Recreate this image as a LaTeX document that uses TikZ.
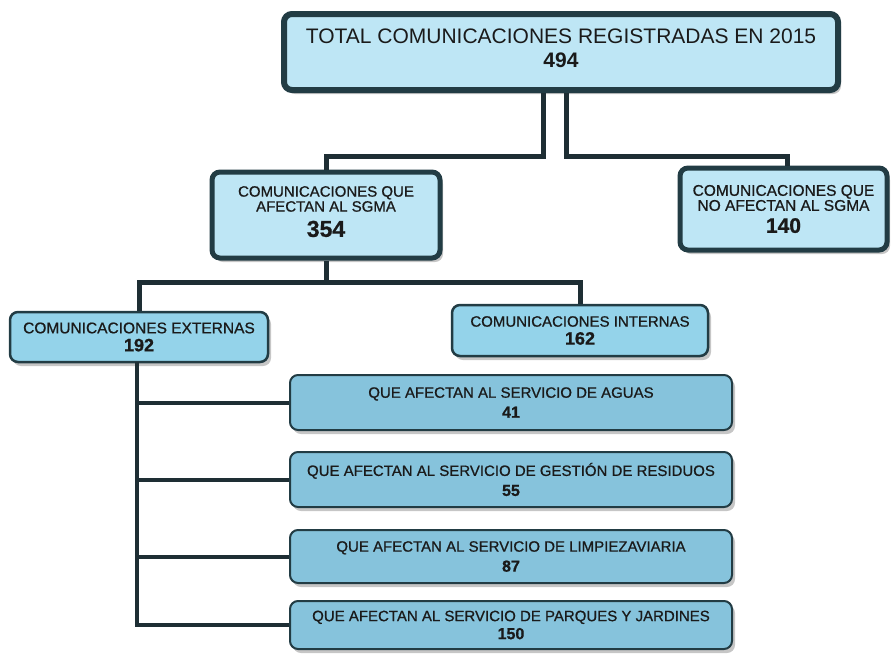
\documentclass[tikz,border=0pt]{standalone}
\usepackage{fontspec}
\setmainfont{Liberation Sans}
\newfontfamily\lab{Liberation Sans}[FakeBold=0.8]
\usetikzlibrary{shadows}
\definecolor{bord}{HTML}{223C44}
\definecolor{lineC}{HTML}{1E2E34}
\definecolor{fillA}{HTML}{BEE6F5}
\definecolor{fillB}{HTML}{94D3EA}
\definecolor{fillC}{HTML}{86C3DC}
\definecolor{txt}{HTML}{1A1A1A}
\begin{document}
\begin{tikzpicture}[x=1pt,y=-1pt,
  box/.style={draw=bord, rounded corners=8pt, align=center, inner sep=0pt, text=txt,
    drop shadow={shadow xshift=3pt, shadow yshift=-4pt, fill=gray!45, opacity=1}},
  lvlA/.style={box, fill=fillA, line width=5pt},
  lvlB/.style={box, fill=fillB, line width=2.5pt},
  lvlC/.style={box, fill=fillC, line width=2pt},
  conn/.style={draw=lineC, line width=5pt},
  connT/.style={draw=lineC, line width=4pt}]
\useasboundingbox (0,0) rectangle (891,656);

\node[lvlA, line width=6pt, minimum width=554pt, minimum height=76pt,
  font=\fontsize{21}{24}\selectfont] (top) at (561,52)
  {TOTAL COMUNICACIONES REGISTRADAS EN 2015\\\bfseries 494\\[-16pt]\mbox{}};

\node[lvlA, minimum width=228pt, minimum height=86pt,
  font=\lab\fontsize{15}{15}\selectfont] (sgma) at (326,215)
  {COMUNICACIONES QUE\\AFECTAN AL SGMA\\[8pt]{\fontsize{23}{23}\selectfont\bfseries 354}\\[-8pt]\mbox{}};

\node[lvlA, minimum width=207pt, minimum height=82pt,
  font=\lab\fontsize{15.5}{15}\selectfont] (nos) at (783.5,209)
  {COMUNICACIONES QUE\\NO AFECTAN AL SGMA\\[7pt]{\fontsize{21}{21}\selectfont\bfseries 140}};

\node[lvlB, minimum width=258pt, minimum height=50pt,
  font=\lab\fontsize{15.5}{18}\selectfont] (ext) at (139,337)
  {COMUNICACIONES EXTERNAS\\{\fontsize{18}{19}\selectfont\bfseries 192}};

\node[lvlB, minimum width=256pt, minimum height=51pt,
  font=\lab\fontsize{15}{18}\selectfont] (int) at (580,330.5)
  {COMUNICACIONES INTERNAS\\{\fontsize{18}{19}\selectfont\bfseries 162}};

\node[lvlC, minimum width=442pt, minimum height=55pt,
  font=\lab\fontsize{15}{18}\selectfont] (agu) at (511,402.5)
  {QUE AFECTAN AL SERVICIO DE AGUAS\\[2pt]{\fontsize{16}{18}\selectfont\bfseries 41}};

\node[lvlC, minimum width=442pt, minimum height=55pt,
  font=\lab\fontsize{15}{18}\selectfont] (res) at (511,479.5)
  {QUE AFECTAN AL SERVICIO DE GESTIÓN DE RESIDUOS\\[2pt]{\fontsize{16}{18}\selectfont\bfseries 55}};

\node[lvlC, minimum width=442pt, minimum height=53pt,
  font=\lab\fontsize{15}{18}\selectfont] (lim) at (511,556.5)
  {QUE AFECTAN AL SERVICIO DE LIMPIEZAVIARIA\\[2pt]{\fontsize{16}{18}\selectfont\bfseries 87}};

\node[lvlC, minimum width=442pt, minimum height=48pt,
  font=\lab\fontsize{15}{18}\selectfont] (par) at (511,625)
  {QUE AFECTAN AL SERVICIO DE PARQUES Y JARDINES\\{\fontsize{16}{18}\selectfont\bfseries 150}};

% connectors from top
\coordinate (jl) at (326,156);
\coordinate (jr) at (787,156);
\draw[conn] ([xshift=-18pt]top.south) |- (jl) -- (sgma.north);
\draw[conn] ([xshift=5pt]top.south) |- (jr) -- (jr |- nos.north);

% connectors from SGMA
\coordinate (k) at (326,282);
\draw[conn] (sgma.south) -- (k);
\draw[conn] (ext.north) |- (k);
\draw[conn] (int.north) |- (k);

% trunk from externas
\coordinate (tr) at (137,362);
\draw[connT] (tr) -- (tr |- par.west);
\draw[connT] (tr |- agu.west) -- (agu.west);
\draw[connT] (tr |- res.west) -- (res.west);
\draw[connT] (tr |- lim.west) -- (lim.west);
\draw[connT] ([xshift=-2pt]tr |- par.west) -- (par.west);
\end{tikzpicture}
\end{document}
